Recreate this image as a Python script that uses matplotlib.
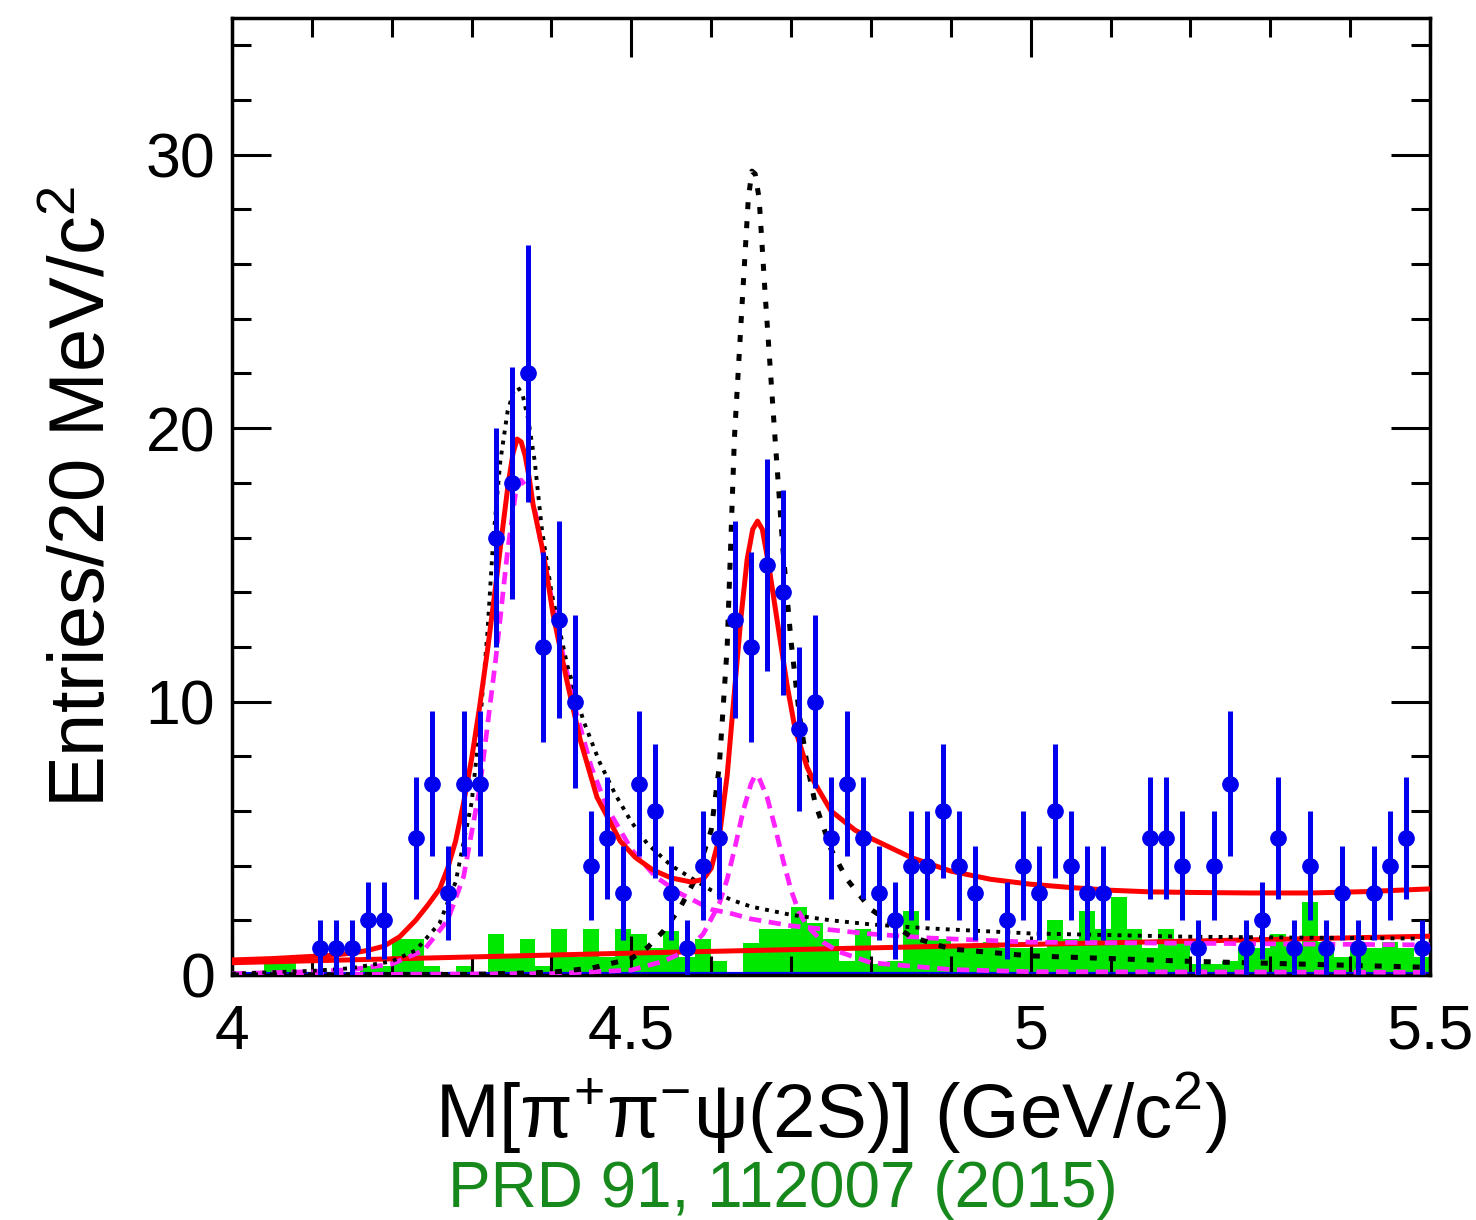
import matplotlib
matplotlib.use("Agg")
import matplotlib.pyplot as plt
from matplotlib.ticker import MultipleLocator, FuncFormatter

plt.rcParams['font.family'] = ['Liberation Sans', 'DejaVu Sans']
plt.rcParams['mathtext.fontset'] = 'custom'
plt.rcParams['mathtext.rm'] = 'Liberation Sans'
plt.rcParams['mathtext.it'] = 'Liberation Sans:italic'

# Data: 20 MeV bins from 4.00 to 5.50 GeV
bin_lo = 4.0
bin_w = 0.02
counts = [0, 0, 0, 0, 0, 1, 1, 1, 2, 2,
          0, 5, 7, 3, 7, 7, 16, 18, 22, 12,
          13, 10, 4, 5, 3, 7, 6, 3, 1, 4,
          5, 13, 12, 15, 14, 9, 10, 5, 7, 5,
          3, 2, 4, 4, 6, 4, 3, 0, 2, 4,
          3, 6, 4, 3, 3, 0, 0, 5, 5, 4,
          1, 4, 7, 1, 2, 5, 1, 4, 1, 3,
          1, 3, 4, 5, 1]

# sideband background histogram (green)
sideband = [0, 0, 0.65, 0.65, 0, 0, 0, 0, 0.33, 0.33,
            1.33, 1.33, 0.33, 0, 0.33, 0, 1.5, 0.67, 1.33, 0.33,
            1.67, 0.67, 1.67, 0.67, 1.67, 1.5, 1.0, 1.6, 0.67, 1.33,
            0.5, 0, 1.17, 1.67, 1.67, 2.5, 1.9, 1.33, 0.5, 1.67,
            0.4, 0.5, 2.33, 1.33, 1.33, 1.0, 1.0, 1.2, 1.0, 1.0,
            1.0, 2.0, 1.33, 2.33, 1.67, 2.87, 1.67, 1.0, 1.67, 1.2,
            0.4, 0.4, 0.5, 1.0, 1.0, 1.5, 1.0, 2.67, 1.2, 0.67,
            1.2, 1.0, 1.2, 1.0, 0.67]

# fit curves
total_x = [4.00, 4.05, 4.10, 4.125, 4.15, 4.17, 4.19, 4.21, 4.23, 4.245, 4.26, 4.27,
           4.28, 4.29, 4.30, 4.31, 4.32, 4.33, 4.34, 4.346, 4.352, 4.357, 4.362, 4.367,
           4.372, 4.377, 4.39, 4.402, 4.419, 4.436, 4.457, 4.486, 4.505, 4.527, 4.55,
           4.575, 4.59, 4.60, 4.61, 4.62, 4.628, 4.637, 4.645, 4.652, 4.658, 4.664,
           4.672, 4.685, 4.695, 4.705, 4.72, 4.73, 4.75, 4.78, 4.80, 4.85, 4.90, 4.95,
           5.00, 5.05, 5.10, 5.15, 5.20, 5.275, 5.35, 5.42, 5.50]
total_y = [0.55, 0.6, 0.68, 0.72, 0.8, 0.9, 1.05, 1.4, 2.0, 2.55, 3.15, 3.9,
           4.9, 6.3, 7.9, 9.8, 11.9, 14.2, 16.6, 18.0, 19.1, 19.6, 19.5, 19.0,
           18.2, 17.2, 15.4, 13.2, 10.8, 8.6, 6.5, 4.9, 4.3, 3.84, 3.55,
           3.4, 3.5, 3.9, 5.0, 7.3, 10.0, 13.0, 15.2, 16.3, 16.6, 16.3,
           15.0, 12.5, 10.6, 9.0, 7.6, 7.0, 6.0, 5.3, 5.0, 4.3, 3.8, 3.5,
           3.32, 3.2, 3.1, 3.04, 3.02, 3.0, 3.0, 3.05, 3.15]

bkg_x = [4.0, 4.5, 5.0, 5.5]
bkg_y = [0.45, 0.8, 1.12, 1.42]

sol1a_x = [4.00, 4.10, 4.15, 4.20, 4.24, 4.27, 4.29, 4.31, 4.33, 4.345, 4.355, 4.362,
           4.37, 4.38, 4.39, 4.41, 4.43, 4.45, 4.47, 4.50, 4.53, 4.56, 4.60, 4.625,
           4.65, 4.70, 4.75, 4.80, 4.875, 5.00, 5.25, 5.50]
sol1a_y = [0.05, 0.12, 0.2, 0.4, 0.9, 2.0, 3.6, 6.8, 11.5, 15.5, 17.6, 18.1,
           17.8, 16.9, 15.3, 12.3, 9.7, 7.6, 6.1, 4.6, 3.6, 3.0, 2.4, 2.25,
           2.05, 1.8, 1.65, 1.5, 1.35, 1.2, 1.15, 1.1]

sol1b_x = [4.00, 4.40, 4.50, 4.54, 4.57, 4.59, 4.61, 4.62, 4.63, 4.64, 4.65, 4.655,
           4.66, 4.67, 4.68, 4.69, 4.70, 4.71, 4.72, 4.74, 4.76, 4.80, 4.90, 5.00, 5.50]
sol1b_y = [0.0, 0.05, 0.18, 0.5, 0.9, 1.5, 2.6, 3.5, 4.7, 6.0, 7.0, 7.3,
           7.2, 6.5, 5.4, 4.2, 3.1, 2.3, 1.8, 1.2, 0.85, 0.45, 0.2, 0.12, 0.1]

sol2a_x = [4.00, 4.10, 4.15, 4.20, 4.23, 4.26, 4.28, 4.30, 4.31, 4.32, 4.327, 4.336,
           4.345, 4.352, 4.358, 4.364, 4.371, 4.379, 4.388, 4.40, 4.42, 4.44, 4.46,
           4.48, 4.50, 4.52, 4.55, 4.60, 4.625, 4.65, 4.70, 4.75, 4.80, 4.875, 5.00,
           5.20, 5.50]
sol2a_y = [0.05, 0.15, 0.25, 0.5, 0.9, 1.9, 3.4, 6.3, 9.0, 12.6, 15.9, 18.8,
           20.6, 21.3, 21.5, 21.2, 20.3, 18.8, 16.3, 14.0, 11.3, 9.3, 7.8,
           6.6, 5.6, 4.8, 4.0, 3.1, 2.75, 2.5, 2.2, 2.0, 1.85, 1.7, 1.52,
           1.4, 1.33]

sol2b_x = [4.00, 4.30, 4.40, 4.45, 4.50, 4.52, 4.54, 4.56, 4.58, 4.60, 4.61, 4.62,
           4.629, 4.639, 4.6465, 4.651, 4.655, 4.660, 4.668, 4.680, 4.69, 4.70, 4.71,
           4.72, 4.73, 4.75, 4.77, 4.80, 4.85, 4.90, 5.00, 5.20, 5.50]
sol2b_y = [0.0, 0.02, 0.1, 0.25, 0.6, 1.0, 1.6, 2.4, 3.5, 5.3, 7.6, 12.0,
           19.6, 24.7, 28.4, 29.4, 29.3, 28.4, 24.7, 19.6, 15.5, 12.2, 9.6,
           7.7, 6.3, 4.6, 3.5, 2.4, 1.4, 0.95, 0.7, 0.5, 0.28]

xs = [bin_lo + bin_w * (i + 0.5) for i in range(len(counts))]
edges = [bin_lo + bin_w * i for i in range(len(counts))]

fig = plt.figure(figsize=(14.76, 12.2), dpi=100)
ax = fig.add_axes([232 / 1476, 245 / 1220, 1198 / 1476, 957 / 1220])

ax.bar(edges, sideband, width=bin_w, align='edge', color='#00e800', linewidth=0, zorder=1)

ax.plot(bkg_x, bkg_y, color='#ff0000', lw=3.6, zorder=3)
ax.plot(sol1b_x, sol1b_y, color='#ff22ff', lw=3.4, ls=(0, (2.6, 1.6)), zorder=3)
ax.plot(sol1a_x, sol1a_y, color='#ff22ff', lw=3.4, ls=(0, (2.6, 1.6)), zorder=3)
ax.plot(sol2a_x, sol2a_y, color='black', lw=2.8, ls=(0, (1.0, 1.6)), zorder=3)
ax.plot(sol2b_x, sol2b_y, color='black', lw=3.6, ls=(0, (1.4, 2.4)), zorder=3)
ax.plot(total_x, total_y, color='#ff0000', lw=3.6, zorder=4)
ax.axhline(0.03, color='#0000ff', lw=3, zorder=2)

px = [x for x, n in zip(xs, counts) if n > 0]
py = [n for n in counts if n > 0]
perr = [n ** 0.5 for n in py]
ax.errorbar(px, py, yerr=perr, fmt='o', color='#0000ee', ms=11, elinewidth=3.6,
            capsize=0, zorder=5)

ax.set_xlim(4.0, 5.5)
ax.set_ylim(0, 35)
ax.xaxis.set_major_locator(MultipleLocator(0.5))
ax.xaxis.set_minor_locator(MultipleLocator(0.1))
ax.yaxis.set_major_locator(MultipleLocator(10))
ax.yaxis.set_minor_locator(MultipleLocator(2))
ax.xaxis.set_major_formatter(FuncFormatter(lambda v, p: '%g' % v))
ax.tick_params(which='both', direction='in', top=True, right=True, width=2.2)
ax.tick_params(which='major', length=28)
ax.tick_params(which='minor', length=14)
ax.tick_params(axis='x', labelsize=45, pad=20)
ax.tick_params(axis='y', labelsize=45, pad=12)
for s in ax.spines.values():
    s.set_linewidth(2.5)

ax.set_xlabel('M[π$^{+}$π$^{-}$ψ(2S)] (GeV/c$^{2}$)', fontsize=55, labelpad=6)
ax.set_ylabel('Entries/20 MeV/c$^{2}$', fontsize=56, labelpad=18)

fig.text(783 / 1476, 1 - 1190 / 1220, 'PRD 91, 112007 (2015)', color='#17891c',
         fontsize=46, ha='center', va='center')

fig.savefig('out.png', dpi=100)
